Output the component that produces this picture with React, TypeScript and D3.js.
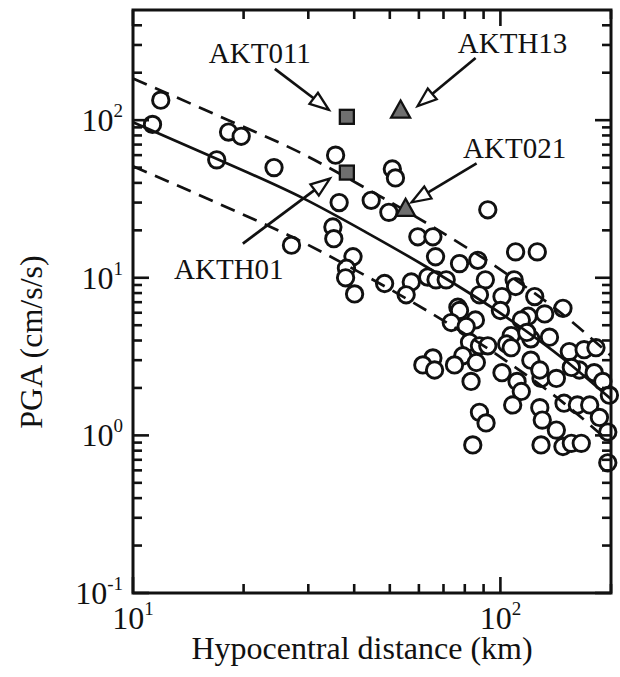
import React from 'react';
import * as d3 from 'd3';

// Observed PGA records (hypocentral distance km, PGA cm/s/s)
const distances = [
  11.9, 11.3, 18.2, 19.7, 16.9, 24.2, 27.0, 35.6, 36.4, 35.0, 35.2, 39.7, 38.1, 37.9, 40.1,
  50.8, 51.8, 44.5, 49.7, 59.6, 65.5, 66.6, 48.4, 57.2, 55.4, 63.4, 66.8, 71.2, 77.4, 76.6,
  92.4, 110, 126, 86.8, 91.0, 87.7, 109, 110, 101, 124, 148, 77.4, 85.5, 119, 132, 114,
  73.5, 80.7, 82.4, 87.7, 79, 75, 86, 83.2, 65.5, 61.5, 66.2, 87.7, 91.4, 84.1,
  100, 107, 104, 92.4, 121, 136, 154, 169, 182, 121, 101, 111, 129, 142, 114, 164, 180,
  190, 198, 108, 128, 149, 162, 175, 130, 186, 142, 196, 129, 148, 156, 166, 196,
  128, 156, 118, 107,
];
const pgaValues = [
  134, 94, 84, 79, 56, 50, 16.1, 60, 30, 21, 17.7, 13.6, 11.5, 10.0, 7.9,
  49, 43, 31, 26, 18.2, 18.2, 13.6, 9.2, 9.4, 7.8, 10.1, 9.7, 9.7, 12.3, 6.5,
  27, 14.6, 14.6, 12.9, 9.7, 7.8, 9.7, 8.8, 7.6, 7.6, 6.4, 6.2, 5.4, 5.7, 5.9, 5.4,
  5.2, 4.9, 3.9, 3.7, 3.2, 2.8, 2.9, 2.2, 3.1, 2.8, 2.6, 1.4, 1.2, 0.87,
  6.2, 4.3, 3.8, 3.7, 4.1, 4.2, 3.4, 3.5, 3.6, 3.0, 2.5, 2.2, 2.3, 2.3, 1.9, 2.6, 2.5,
  2.2, 1.8, 1.56, 1.5, 1.6, 1.56, 1.56, 1.25, 1.3, 1.08, 1.05, 0.87, 0.85, 0.89, 0.89, 0.67,
  2.6, 2.7, 4.5, 3.6,
];

// Attenuation relation (mean and +/- one sigma)
const curveDistances = [10, 17, 29, 43, 63, 104, 150, 200];
const meanPGA = [97, 56.5, 32, 19.5, 11.7, 5.6, 3.0, 1.7];
const upperPGA = [184, 107, 61, 37, 22.2, 10.6, 5.7, 3.2];
const lowerPGA = [51, 29.7, 16.8, 10.3, 6.2, 2.95, 1.58, 0.89];

// Highlighted stations
const stationNames = ['AKT011', 'AKTH01', 'AKTH13', 'AKT021'];
const stationDistances = [38.2, 38.2, 53.5, 55.2];
const stationPGA = [105, 46.5, 116, 27.6];
const stationShapes = ['square', 'square', 'triangle', 'triangle'];

// Axis ticks
const xMajorTicks = [10, 100];
const xMajorExp = ['1', '2'];
const xMinorTicks = [20, 30, 40, 50, 60, 70, 80, 90, 200];
const yMajorTicks = [0.1, 1, 10, 100];
const yMajorExp = ['-1', '0', '1', '2'];
const yMinorTicks = [0.2, 0.3, 0.4, 0.5, 0.6, 0.7, 0.8, 0.9, 2, 3, 4, 5, 6, 7, 8, 9, 20, 30, 40, 50, 60, 70, 80, 90, 200, 300, 400];

const xLabel = 'Hypocentral distance (km)';
const yLabel = 'PGA (cm/s/s)';

// Layout (annotation offsets relative to markers)
const annotTail = [[-72, -48], [-104, 71], [75, -52], [71, -45]];
const annotTip = [[-18, -7], [-17, 6], [17, -4], [6, -6]];
const annotText = [[-87, -54], [-118, 106], [112, -57], [109, -50]];

const W = 620, H = 677;
const L = 133, R = 611, T = 10, B = 593;
const FONT = '"Liberation Serif", "Times New Roman", serif';

export default function App() {
  const x = d3.scaleLog().domain([10, 200]).range([L, R]);
  const y = d3.scaleLog().domain([0.1, 500]).range([B, T]);

  const line = d3.line<number>()
    .x((_, i) => x(curveDistances[i]))
    .y((d) => y(d))
    .curve(d3.curveMonotoneX);

  const major = 16, minor = 9;

  const arrow = (i: number) => {
    const cx = x(stationDistances[i]);
    const cy = y(stationPGA[i]);
    const tx = cx + annotTail[i][0], ty = cy + annotTail[i][1];
    const px = cx + annotTip[i][0], py = cy + annotTip[i][1];
    const dx = px - tx, dy = py - ty;
    const len = Math.hypot(dx, dy);
    const ux = dx / len, uy = dy / len;
    const nx = -uy, ny = ux;
    const hl = 19, hw = 7;
    const bx = px - ux * hl, by = py - uy * hl;
    const pts = `${px},${py} ${bx + nx * hw},${by + ny * hw} ${bx - nx * hw},${by - ny * hw}`;
    return (
      <g key={'a' + i}>
        <line x1={tx} y1={ty} x2={bx + ux * 4} y2={by + uy * 4} stroke="#111" strokeWidth={2.7} />
        <polygon points={pts} fill="white" stroke="#111" strokeWidth={2.3} strokeLinejoin="miter" />
        <text x={cx + annotText[i][0]} y={cy + annotText[i][1]} textAnchor="middle"
          fontFamily={FONT} fontSize={29} fill="#111">{stationNames[i]}</text>
      </g>
    );
  };

  return (
    <svg width={W} height={H} style={{ position: 'absolute', left: 0, top: 0, background: 'white' }}>
      <defs>
        <clipPath id="plot"><rect x={L} y={T} width={R - L} height={B - T} /></clipPath>
      </defs>
      <rect x={0} y={0} width={W} height={H} fill="white" />

      {/* data circles */}
      <g>
        {distances.map((d, i) => (
          <circle key={i} cx={x(d)} cy={y(pgaValues[i])} r={8.2} fill="white" stroke="#111" strokeWidth={2.9} />
        ))}
      </g>

      {/* curves */}
      <g clipPath="url(#plot)" fill="none" stroke="#111">
        <path d={line(meanPGA) || ''} strokeWidth={2.7} />
        <path d={line(upperPGA) || ''} strokeWidth={2.7} strokeDasharray="15 9" />
        <path d={line(lowerPGA) || ''} strokeWidth={2.7} strokeDasharray="15 9" />
      </g>

      {/* stations */}
      <g>
        {stationNames.map((_, i) => {
          const cx = x(stationDistances[i]);
          const cy = y(stationPGA[i]);
          if (stationShapes[i] === 'square') {
            return <rect key={i} x={cx - 7} y={cy - 7} width={14} height={14} fill="#6f6f6f" stroke="#111" strokeWidth={2.3} />;
          }
          const s = 9.5;
          return <polygon key={i} points={`${cx},${cy - s} ${cx + s},${cy + s * 0.8} ${cx - s},${cy + s * 0.8}`}
            fill="#6f6f6f" stroke="#111" strokeWidth={2.3} strokeLinejoin="miter" />;
        })}
      </g>

      {stationNames.map((_, i) => arrow(i))}

      {/* frame */}
      <rect x={L} y={T} width={R - L} height={B - T} fill="none" stroke="#111" strokeWidth={3} />

      {/* ticks */}
      <g stroke="#111" strokeWidth={2.6}>
        {xMajorTicks.map((t) => (
          <g key={'xm' + t}>
            <line x1={x(t)} x2={x(t)} y1={B} y2={B - major} />
            <line x1={x(t)} x2={x(t)} y1={T} y2={T + major} />
          </g>
        ))}
        {xMinorTicks.map((t) => (
          <g key={'xn' + t}>
            <line x1={x(t)} x2={x(t)} y1={B} y2={B - minor} />
            <line x1={x(t)} x2={x(t)} y1={T} y2={T + minor} />
          </g>
        ))}
        {yMajorTicks.map((t) => (
          <g key={'ym' + t}>
            <line x1={L} x2={L + major} y1={y(t)} y2={y(t)} />
            <line x1={R} x2={R - major} y1={y(t)} y2={y(t)} />
          </g>
        ))}
        {yMinorTicks.map((t) => (
          <g key={'yn' + t}>
            <line x1={L} x2={L + minor} y1={y(t)} y2={y(t)} />
            <line x1={R} x2={R - minor} y1={y(t)} y2={y(t)} />
          </g>
        ))}
      </g>

      {/* tick labels */}
      <g fontFamily={FONT} fill="#111">
        {xMajorTicks.map((t, i) => (
          <text key={'xl' + t} x={x(t)} y={629} textAnchor="middle" fontSize={32}>
            10<tspan fontSize={19} dy={-14}>{xMajorExp[i]}</tspan>
          </text>
        ))}
        {yMajorTicks.map((t, i) => (
          <text key={'yl' + t} x={123} y={y(t) + 11} textAnchor="end" fontSize={32}>
            10<tspan fontSize={19} dy={-14}>{yMajorExp[i]}</tspan>
          </text>
        ))}
      </g>

      {/* axis titles */}
      <text x={362} y={659} textAnchor="middle" fontFamily={FONT} fontSize={32} fill="#111">{xLabel}</text>
      <text transform={`translate(42, 342) rotate(-90)`} textAnchor="middle" fontFamily={FONT} fontSize={32} fill="#111">{yLabel}</text>
    </svg>
  );
}
